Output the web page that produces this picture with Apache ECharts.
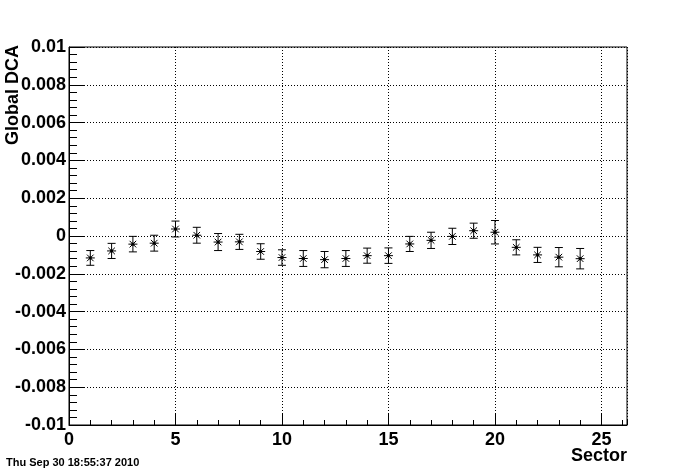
<!DOCTYPE html>
<html>
<head>
<meta charset="utf-8">
<script src="https://cdn.jsdelivr.net/npm/echarts@6/dist/echarts.min.js"></script>
<style>
html,body{margin:0;padding:0;background:#fff;}
#chart{width:696px;height:472px;}
</style>
</head>
<body>
<div id="chart"></div>
<script>
var sectors = [1,2,3,4,5,6,7,8,9,10,11,12,13,14,15,16,17,18,19,20,21,22,23,24];
var dca = [-0.00116,-0.00079,-0.00043,-0.00038,0.00037,0.00004,-0.00032,-0.00031,-0.00082,-0.00114,-0.00119,-0.00125,-0.00119,-0.00104,-0.00104,-0.00042,-0.00023,-0.00002,0.00028,0.0002,-0.0006,-0.001,-0.00112,-0.0012];
var dcaErr = [0.00039,0.0004,0.00041,0.00042,0.00042,0.00042,0.00045,0.0004,0.00041,0.00041,0.00042,0.00043,0.00042,0.0004,0.00041,0.0004,0.00043,0.00043,0.0004,0.00062,0.0004,0.0004,0.00051,0.00054];
var xTickLabels = ['0','5','10','15','20','25'];
var yTickLabels = ['-0.01','-0.008','-0.006','-0.004','-0.002','0','0.002','0.004','0.006','0.008','0.01'];
var xTitle = 'Sector';
var yTitle = 'Global DCA';
var dateText = 'Thu Sep 30 18:55:37 2010';

var FONT = '"Liberation Sans", Arial, Helvetica, sans-serif';
var data = sectors.map(function(s, i){ return [s, dca[i], dcaErr[i]]; });

var chart = echarts.init(document.getElementById('chart'), null, {renderer:'canvas'});
var dotted = {show:true, lineStyle:{color:'#000', width:1, type:[1,2]}};

function renderItem(params, api){
  var x = api.value(0), y = api.value(1), e = api.value(2);
  var c = api.coord([x, y]);
  var hi = api.coord([x, y + e]);
  var lo = api.coord([x, y - e]);
  var cap = 4, a = 4.5, d = 3.3;
  var st = {stroke:'#000', lineWidth:1};
  var lines = [
    [c[0], hi[1], c[0], lo[1]],
    [c[0]-cap, hi[1], c[0]+cap, hi[1]],
    [c[0]-cap, lo[1], c[0]+cap, lo[1]],
    [c[0]-a, c[1], c[0]+a, c[1]],
    [c[0]-d, c[1]-d, c[0]+d, c[1]+d],
    [c[0]-d, c[1]+d, c[0]+d, c[1]-d]
  ];
  var children = lines.map(function(l){
    return {type:'line', shape:{x1:l[0], y1:l[1], x2:l[2], y2:l[3]}, style:st};
  });
  children.push({type:'circle', shape:{cx:c[0], cy:c[1], r:1.6}, style:{fill:'#000'}});
  return {type:'group', children:children};
}

var option = {
  animation:false,
  backgroundColor:'#fff',
  grid:{left:69, right:69, top:47, bottom:47, show:true, borderColor:'#000', borderWidth:1, backgroundColor:'transparent'},
  xAxis:[{
    type:'value', min:0, max:26.2, interval:5, position:'bottom',
    axisLine:{show:true, onZero:false, lineStyle:{color:'#000', width:1}},
    axisTick:{show:true, inside:true, length:11, lineStyle:{color:'#000'}},
    splitLine:dotted,
    axisLabel:{show:true, margin:6, color:'#000', fontFamily:FONT, fontWeight:'bold', fontSize:18,
      showMaxLabel:false,
      formatter:function(v){ var i = Math.round(v/5); return (Math.abs(v - i*5) < 1e-6 && xTickLabels[i] !== undefined) ? xTickLabels[i] : ''; }}
  },{
    type:'value', min:0, max:26.2, interval:1, position:'bottom', offset:0,
    axisLine:{show:false, onZero:false},
    axisTick:{show:true, inside:true, length:5, lineStyle:{color:'#000'}},
    splitLine:{show:false},
    axisLabel:{show:false}
  }],
  yAxis:[{
    type:'value', min:-0.01, max:0.01, interval:0.002, position:'left',
    axisLine:{show:true, onZero:false, lineStyle:{color:'#000', width:1}},
    axisTick:{show:true, inside:true, length:16, lineStyle:{color:'#000'}},
    minorTick:{show:true, splitNumber:5, length:8, lineStyle:{color:'#000'}},
    splitLine:dotted,
    axisLabel:{show:true, margin:3, color:'#000', fontFamily:FONT, fontWeight:'bold', fontSize:18,
      formatter:function(v){ var i = Math.round((v + 0.01)/0.002); return yTickLabels[i] !== undefined ? yTickLabels[i] : ''; }}
  }],
  series:[{
    type:'custom', xAxisIndex:0, yAxisIndex:0, data:data, renderItem:renderItem,
    encode:{x:0, y:1}, clip:false, z:5
  }],
  graphic:[
    {type:'text', x:627, y:447, style:{text:xTitle, textAlign:'right', textVerticalAlign:'top', fill:'#000', font:'bold 18px ' + FONT}},
    {type:'text', x:4, y:45, rotation:Math.PI/2, style:{text:yTitle, textAlign:'right', textVerticalAlign:'top', fill:'#000', font:'bold 18px ' + FONT}},
    {type:'text', x:6, y:457, style:{text:dateText, textAlign:'left', textVerticalAlign:'top', fill:'#000', font:'bold 11px ' + FONT}}
  ]
};
chart.setOption(option);
</script>
</body>
</html>
